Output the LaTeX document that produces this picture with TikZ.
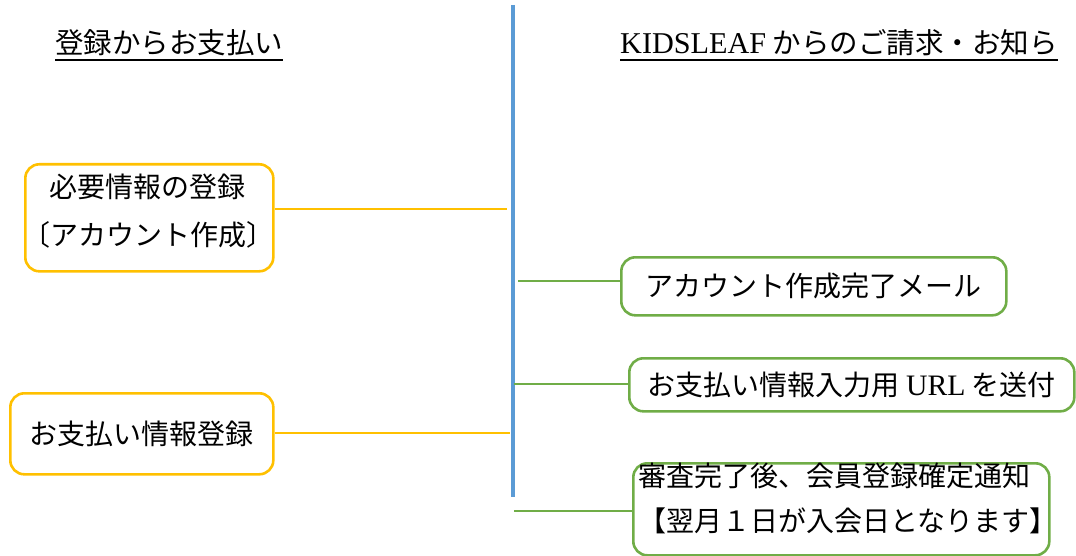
\documentclass[tikz,border=0pt]{standalone}
\usepackage{fontspec}
\setmainfont{Liberation Serif}[Scale=1.06]
\newfontfamily\cjk{Noto Sans CJK JP}
\definecolor{boxorange}{HTML}{FFC000}
\definecolor{boxgreen}{HTML}{70AD47}
\definecolor{axisblue}{HTML}{5B9BD5}
\tikzset{
  head/.style={inner sep=0pt, anchor=base west, font=\cjk\fontsize{28.5}{32}\selectfont},
  obox/.style={draw=boxorange, line width=2.6pt, rounded corners=14pt, align=center,
    font=\cjk\fontsize{28}{32}\selectfont, anchor=north west},
  gbox/.style={draw=boxgreen, line width=2.6pt, rounded corners=14pt, align=center,
    font=\cjk\fontsize{28}{32}\selectfont, anchor=north west},
  olink/.style={draw=boxorange, line width=1.3pt},
  glink/.style={draw=boxgreen, line width=1.5pt}
}
\begin{document}
\begin{tikzpicture}[x=1pt,y=-1pt]
      \useasboundingbox (0,0) rectangle (1076,556);
      \node[head] (lefthead) at (55,54) {登録からお支払い};
      \node[head] (righthead) at (620,54) {{\rmfamily KIDSLEAF} からのご請求・お知ら};
      \draw[line width=2pt] ([yshift=-6pt]lefthead.base west) -- ([yshift=-6pt]lefthead.base east);
      \draw[line width=2pt] ([yshift=-6pt]righthead.base west) -- ([yshift=-6pt]righthead.base east);
      \coordinate (top) at (513,5);
      \coordinate (bottom) at (513,497);
      \draw[axisblue, line width=4pt] (top) to (bottom);
      \node[obox, minimum width=248, minimum height=107] (entry) at (24,163) {};
      \node[align=center, inner sep=0pt, font=\cjk\fontsize{28}{48}\selectfont] (entrytext)
        at (148,211) {必要情報の登録\\〔アカウント作成〕};
      \node[obox, minimum width=263, minimum height=81] (payreg) at (9,392)
        {お支払い情報登録};
      \node[gbox, minimum width=385, minimum height=58] (mail) at (620,256)
        {アカウント作成完了メール};
      \node[gbox, minimum width=445, minimum height=53] (url) at (628,357)
        {お支払い情報入力用 {\rmfamily URL} を送付};
      \node[gbox, minimum width=416, minimum height=92] (confirm) at (632,462) {};
      \node[anchor=north west, inner sep=0pt, align=left,
        font=\cjk\fontsize{28}{45}\selectfont] (confirmtext) at (638,463)
        {審査完了後、会員登録確定通知\\【翌月１日が入会日となります】};
      \coordinate (e1) at (507,209);
      \coordinate (e2) at (510,433);
      \coordinate (s1) at (518,281);
      \coordinate (s2) at (514,384);
      \coordinate (s3) at (514,511);
      \begin{scope}[-]
        \draw[olink] (e1 -| entry.east) to (e1);
        \draw[olink] (e2 -| payreg.east) to (e2);
        \draw[glink] (s1) to (s1 -| mail.west);
        \draw[glink] (s2) to (s2 -| url.west);
        \draw[glink] (s3) to (s3 -| confirm.west);
      \end{scope}
    \end{tikzpicture}
\end{document}
